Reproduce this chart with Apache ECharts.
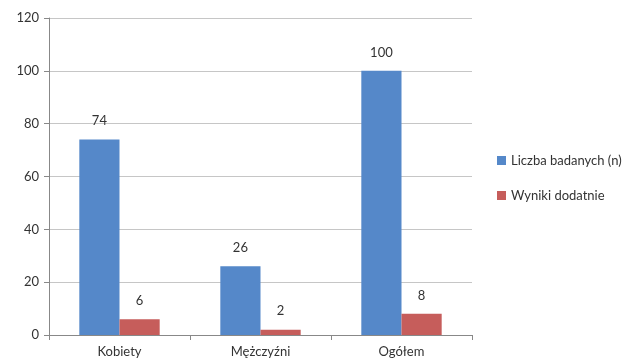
<!DOCTYPE html>
<html>
<head>
<meta charset="utf-8">
<script src="https://cdn.jsdelivr.net/npm/echarts@6/dist/echarts.min.js"></script>
<style>
  html, body { margin: 0; padding: 0; background: #fff; }
  #chart { width: 625px; height: 362px; }
</style>
</head>
<body>
<div id="chart"></div>
<script>
// Categories and values
const categories = ['Kobiety', 'Mężczyźni', 'Ogółem'];
const seriesNames = ['Liczba badanych (n)', 'Wyniki dodatnie'];
const tested = [74, 26, 100];
const positive = [6, 2, 8];
const yTicks = [0, 20, 40, 60, 80, 100, 120];

const FONT = 'Lato, "Open Sans", sans-serif';
const TEXT = '#333';

const chart = echarts.init(document.getElementById('chart'), null, { renderer: 'canvas' });

const labelCfg = {
  show: true,
  position: 'top',
  distance: 12,
  color: TEXT,
  fontFamily: FONT,
  fontSize: 13
};

chart.setOption({
  animation: false,
  textStyle: { fontFamily: FONT, color: TEXT },
  grid: { left: 49, right: 153, top: 18, bottom: 27, containLabel: false },
  legend: {
    orient: 'vertical',
    left: 492,
    top: 149,
    itemWidth: 9,
    itemHeight: 9,
    itemGap: 22,
    icon: 'rect',
    textStyle: { fontFamily: FONT, fontSize: 13, color: TEXT },
    data: seriesNames
  },
  xAxis: {
    type: 'category',
    data: categories,
    axisLine: { lineStyle: { color: '#888', width: 1 } },
    axisTick: { show: true, length: 5, lineStyle: { color: '#888' } },
    axisLabel: { color: TEXT, fontFamily: FONT, fontSize: 13, margin: 10 }
  },
  yAxis: {
    type: 'value',
    min: yTicks[0],
    max: yTicks[yTicks.length - 1],
    interval: 20,
    axisLine: { show: true, lineStyle: { color: '#888', width: 1 } },
    axisTick: { show: true, length: 5, inside: false, lineStyle: { color: '#888' } },
    axisLabel: { color: TEXT, fontFamily: FONT, fontSize: 13, margin: 10 },
    splitLine: { lineStyle: { color: '#c6c6c6', width: 1 } }
  },
  series: [
    {
      name: seriesNames[0],
      type: 'bar',
      data: tested,
      barGap: '0%',
      barCategoryGap: '43%',
      itemStyle: { color: '#5588c9' },
      label: labelCfg
    },
    {
      name: seriesNames[1],
      type: 'bar',
      data: positive,
      itemStyle: { color: '#c65d5b' },
      label: labelCfg
    }
  ]
});
</script>
</body>
</html>
